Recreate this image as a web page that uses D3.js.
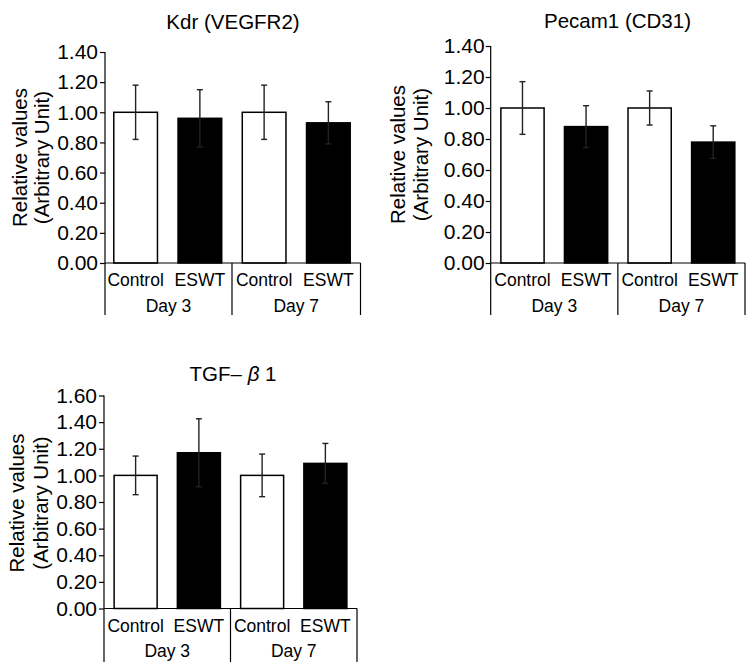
<!DOCTYPE html>
<html>
<head>
<meta charset="utf-8">
<script src="https://cdn.jsdelivr.net/npm/d3@7/dist/d3.min.js"></script>
<style>
  body { margin: 0; background: #fff; }
  svg { display: block; }
  text { font-family: "Liberation Sans", Arial, Helvetica, sans-serif; fill: #000; }
</style>
</head>
<body>
<svg id="chart" width="750" height="667"></svg>
<script>
// ---------- data ----------
const categories = ["Control", "ESWT", "Control", "ESWT"];
const groups = ["Day 3", "Day 7"];
const titles = ["Kdr (VEGFR2)", "Pecam1 (CD31)", "TGF– β 1"];
const yAxisLines = ["Relative values", "(Arbitrary Unit)"];

const kdrValues   = [1.00, 0.96, 1.00, 0.93];
const kdrErrors   = [0.18, 0.19, 0.18, 0.14];
const pecamValues = [1.00, 0.88, 1.00, 0.78];
const pecamErrors = [0.17, 0.135, 0.11, 0.105];
const tgfValues   = [1.00, 1.17, 1.00, 1.09];
const tgfErrors   = [0.145, 0.255, 0.16, 0.15];

const ticks14 = [0, 0.2, 0.4, 0.6, 0.8, 1.0, 1.2, 1.4];
const ticks16 = [0, 0.2, 0.4, 0.6, 0.8, 1.0, 1.2, 1.4, 1.6];

// ---------- layout ----------
const svg = d3.select("#chart");

const panels = [
  { title: titles[0], values: kdrValues, errors: kdrErrors, ticks: ticks14, yMax: 1.4,
    axisX: 105, bandRange: [103.5, 360.5], yRange: [263, 52], bottomY: 315,
    titleX: 233, titleY: 29, labelX: [27, 48.5], labelY: 157.5, tickPad: 2 },
  { title: titles[1], values: pecamValues, errors: pecamErrors, ticks: ticks14, yMax: 1.4,
    axisX: 490.7, bandRange: [490.7, 745], yRange: [263, 46], bottomY: 315,
    titleX: 617.5, titleY: 28, labelX: [405, 428], labelY: 154.5, tickPad: 1 },
  { title: titles[2], values: tgfValues, errors: tgfErrors, ticks: ticks16, yMax: 1.6,
    axisX: 104, bandRange: [104, 357], yRange: [608.5, 395.5], bottomY: 662,
    titleX: 233, titleY: 381, labelX: [24, 48], labelY: 503, tickPad: 2 }
];

panels.forEach((p, pi) => {
  const g = svg.append("g");
  const x = d3.scaleBand()
    .domain(categories.map((c, i) => i))
    .range(p.bandRange)
    .paddingInner(0.32)
    .paddingOuter(0.16);
  const y = d3.scaleLinear().domain([0, p.yMax]).range(p.yRange);
  const y0 = y(0);

  // bars
  g.selectAll("rect.bar")
    .data(p.values)
    .join("rect")
    .attr("class", "bar")
    .attr("x", (d, i) => x(i))
    .attr("width", x.bandwidth())
    .attr("y", d => y(d))
    .attr("height", d => y0 - y(d))
    .attr("fill", (d, i) => categories[i] === "Control" ? "#fff" : "#000")
    .attr("stroke", "#000")
    .attr("stroke-width", 1.5);

  // error bars
  const eb = g.selectAll("g.err")
    .data(p.values.map((v, i) => ({ v, e: p.errors[i], i })))
    .join("g").attr("class", "err")
    .attr("stroke", "#222").attr("stroke-width", 1.4);
  const cx = d => x(d.i) + x.bandwidth() / 2;
  eb.append("line")
    .attr("x1", cx).attr("x2", cx)
    .attr("y1", d => y(d.v + d.e)).attr("y2", d => y(d.v - d.e));
  eb.append("line")
    .attr("x1", d => cx(d) - 3).attr("x2", d => cx(d) + 3)
    .attr("y1", d => y(d.v + d.e)).attr("y2", d => y(d.v + d.e));
  eb.append("line")
    .attr("x1", d => cx(d) - 3).attr("x2", d => cx(d) + 3)
    .attr("y1", d => y(d.v - d.e)).attr("y2", d => y(d.v - d.e));

  // y axis
  const yAxis = d3.axisLeft(y)
    .tickValues(p.ticks)
    .tickFormat(d3.format(".2f"))
    .tickSize(5)
    .tickPadding(p.tickPad);
  const ag = g.append("g")
    .attr("transform", `translate(${p.axisX},0)`)
    .call(yAxis);
  ag.select(".domain").remove();
  ag.selectAll(".tick line").attr("stroke", "#000").attr("stroke-width", 1.2);
  ag.selectAll(".tick text")
    .style("font-size", "21px")
    .style("font-family", "'Liberation Sans', Arial, sans-serif")
    .attr("fill", "#000");

  // axis lines
  const x0 = p.axisX, x1 = p.bandRange[1];
  const xMid = (x(1) + x.bandwidth() + x(2)) / 2;
  g.append("line").attr("x1", x0).attr("x2", x0)
    .attr("y1", y(p.yMax)).attr("y2", p.bottomY)
    .attr("stroke", "#000").attr("stroke-width", 1.2);
  g.append("line").attr("x1", x0).attr("x2", x1)
    .attr("y1", y0).attr("y2", y0)
    .attr("stroke", "#000").attr("stroke-width", 1.2);
  [xMid, x1].forEach(xx => {
    g.append("line").attr("x1", xx).attr("x2", xx)
      .attr("y1", y0).attr("y2", p.bottomY)
      .attr("stroke", "#000").attr("stroke-width", 1.2);
  });

  // category labels
  g.selectAll("text.cat")
    .data(categories)
    .join("text")
    .attr("class", "cat")
    .attr("x", (d, i) => x(i) + x.bandwidth() / 2)
    .attr("y", y0 + 23)
    .attr("text-anchor", "middle")
    .style("font-size", "17.5px")
    .text(d => d);

  // group labels
  const groupCenters = [(x0 + xMid) / 2, (xMid + x1) / 2];
  g.selectAll("text.grp")
    .data(groups)
    .join("text")
    .attr("class", "grp")
    .attr("x", (d, i) => groupCenters[i])
    .attr("y", y0 + 48.5)
    .attr("text-anchor", "middle")
    .style("font-size", "17.5px")
    .text(d => d);

  // title
  const t = g.append("text")
    .attr("x", p.titleX).attr("y", p.titleY)
    .attr("text-anchor", "middle")
    .style("font-size", "20.5px");
  if (pi === 2) {
    t.append("tspan").text("TGF– ");
    t.append("tspan").style("font-style", "italic").text("β");
    t.append("tspan").text(" 1");
  } else {
    t.text(p.title);
  }

  // y-axis label (two lines)
  yAxisLines.forEach((line, li) => {
    g.append("text")
      .attr("transform", `translate(${p.labelX[li]},${p.labelY}) rotate(-90)`)
      .attr("text-anchor", "middle")
      .style("font-size", "20.5px")
      .text(line);
  });
});
</script>
</body>
</html>
